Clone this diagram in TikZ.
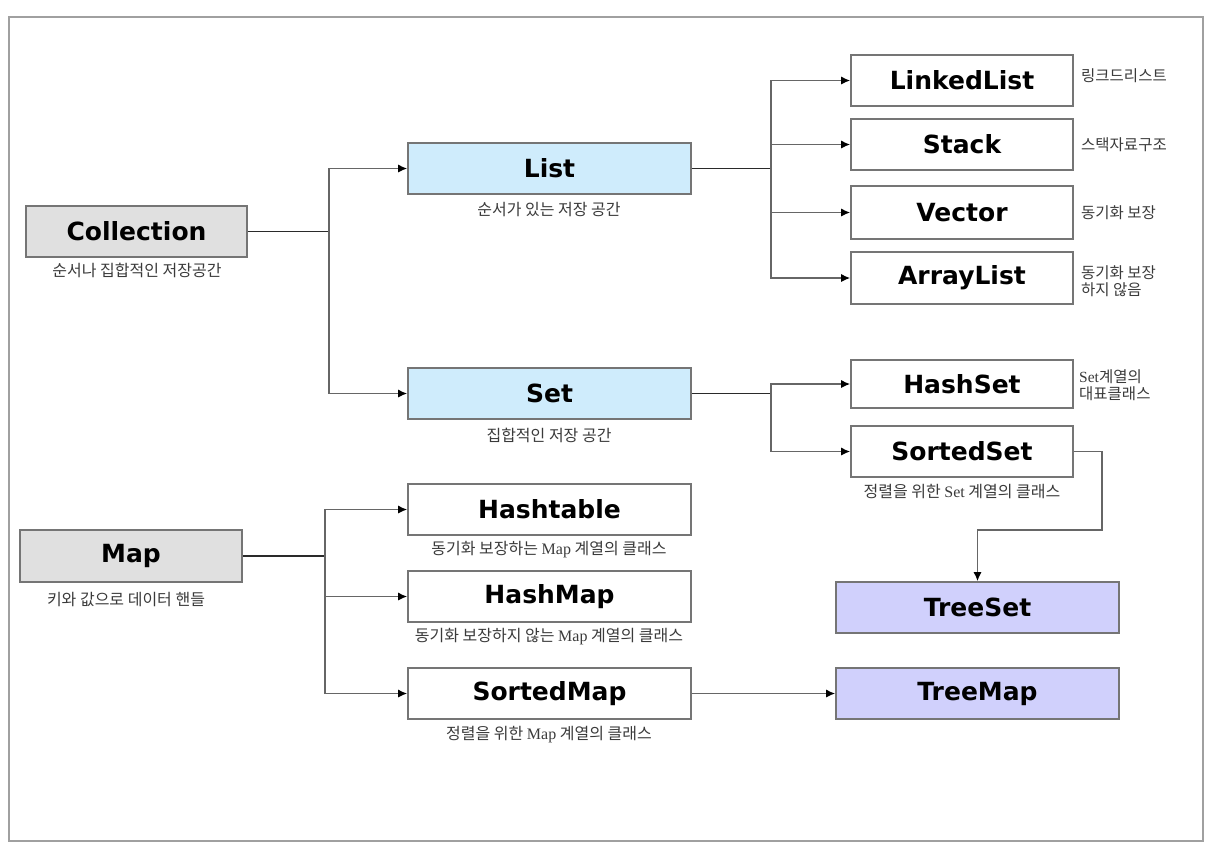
\documentclass[tikz,border=0pt]{standalone}
\usepackage{fontspec}
\setmainfont{DejaVu Sans}
\newfontfamily\kr{Noto Sans CJK KR}
\newfontfamily\lser{Liberation Serif}
\usetikzlibrary{arrows.meta}
\definecolor{framec}{HTML}{A0A0A0}
\definecolor{bord}{HTML}{757575}
\definecolor{gfill}{HTML}{E0E0E0}
\definecolor{bfill}{HTML}{CFECFC}
\definecolor{pfill}{HTML}{D0D0FC}
\definecolor{lblc}{HTML}{3A3A3A}
\definecolor{wire}{HTML}{666666}
\definecolor{stem}{HTML}{2A2A2A}
\tikzset{
  box/.style={draw=bord, line width=1.6pt, inner sep=0pt, text=black,
    font=\bfseries\fontsize{25}{29}\selectfont},
  wbox/.style={box, minimum width=283pt, minimum height=51pt},
  sbox/.style={box, minimum width=222pt, minimum height=51pt},
  lbl/.style={inner sep=0pt, text=lblc, font=\kr\fontsize{16}{18}\selectfont},
  rlbl/.style={lbl, anchor=west, align=left, font=\kr\fontsize{15.5}{17}\selectfont},
  tip/.style={-{Latex[length=9pt,width=8pt,color=black,fill=black]}},
  branch/.style={draw=wire, line width=1.4pt, tip},
  trunk/.style={draw=stem, line width=1.6pt},
}
\begin{document}
\begin{tikzpicture}[x=1pt,y=-1pt]
\useasboundingbox (0,0) rectangle (1214,852);
\draw[framec, line width=2pt] (9,17) rectangle (1203,841);

% boxes
\node[box, fill=gfill, minimum width=221pt, minimum height=51pt] (coll) at (136.5,231.5) {Collection};
\node[wbox, fill=bfill] (list) at (549.5,168.5) {List};
\node[wbox, fill=bfill] (set) at (549.5,393.5) {Set};
\node[sbox] (linked) at (962,80.5) {LinkedList};
\node[sbox] (stack) at (962,144.5) {Stack};
\node[sbox, minimum height=53pt] (vector) at (962,212.5) {Vector};
\node[sbox, minimum height=52pt] (alist) at (962,278) {ArrayList};
\node[sbox, minimum height=48pt] (hset) at (962,384) {HashSet};
\node[sbox] (sset) at (962,451.5) {SortedSet};
\node[wbox, fill=pfill] (tset) at (977.5,607.5) {TreeSet};
\node[wbox, fill=pfill] (tmap) at (977.5,693.5) {TreeMap};
\node[box, fill=gfill, minimum width=222pt, minimum height=52pt] (map) at (131,556) {Map};
\node[wbox] (htable) at (549.5,509.5) {Hashtable};
\node[wbox] (hmap) at (549.5,596.5) {HashMap};
\node[wbox] (smap) at (549.5,693.5) {SortedMap};

% labels
\node[lbl] (lcoll) at (137,270) {순서나 집합적인 저장공간};
\node[lbl] (llist) at (549,210) {순서가 있는 저장 공간};
\node[lbl] (lset) at (549,435) {집합적인 저장 공간};
\node[lbl] (lmap) at (126,600) {키와 값으로 데이터 핸들};
\node[lbl] (lhtable) at (549,550) {동기화 보장하는 {\lser Map} 계열의 클래스};
\node[lbl] (lhmap) at (549,637) {동기화 보장하지 않는 {\lser Map} 계열의 클래스};
\node[lbl] (lsmap) at (549,735) {정렬을 위한 {\lser Map} 계열의 클래스};
\node[lbl] (lsset) at (962,492) {정렬을 위한 {\lser Set} 계열의 클래스};
\node[rlbl] (llinked) at (1081,76) {링크드리스트};
\node[rlbl] (lstack) at (1081,145) {스택자료구조};
\node[rlbl] (lvector) at (1081,213) {동기화 보장};
\node[rlbl] (lalist) at (1081,281) {동기화 보장\\하지 않음};
\node[rlbl] (lhset) at (1079,385) {{\lser Set}계열의\\대표클래스};

% junctions
\coordinate (j1) at (329,231.5);
\coordinate (j2) at (771,168.5);
\coordinate (j3) at (771,393.5);
\coordinate (j4) at (325,556);
\coordinate (c1) at (1102,451.5);
\coordinate (c2) at (1102,530);

% connectors
\draw[trunk] (coll.east) -- (j1);
\draw[branch] (j1) |- (list.west);
\draw[branch] (j1) |- (set.west);

\draw[trunk] (list.east) -- (j2);
\draw[branch] (j2) |- (linked.west);
\draw[branch] (j2) |- (stack.west);
\draw[branch] (j2) |- (vector.west);
\draw[branch] (j2) |- (alist.west);

\draw[trunk] (set.east) -- (j3);
\draw[branch] (j3) |- (hset.west);
\draw[branch] (j3) |- (sset.west);

\draw[branch] (sset.east) -- (c1) -- (c2) -| (tset.north);

\draw[trunk] (map.east) -- (j4);
\draw[branch] (j4) |- (htable.west);
\draw[branch] (j4) |- (hmap.west);
\draw[branch] (j4) |- (smap.west);

\draw[branch] (smap.east) -- (tmap.west);
\end{tikzpicture}
\end{document}
